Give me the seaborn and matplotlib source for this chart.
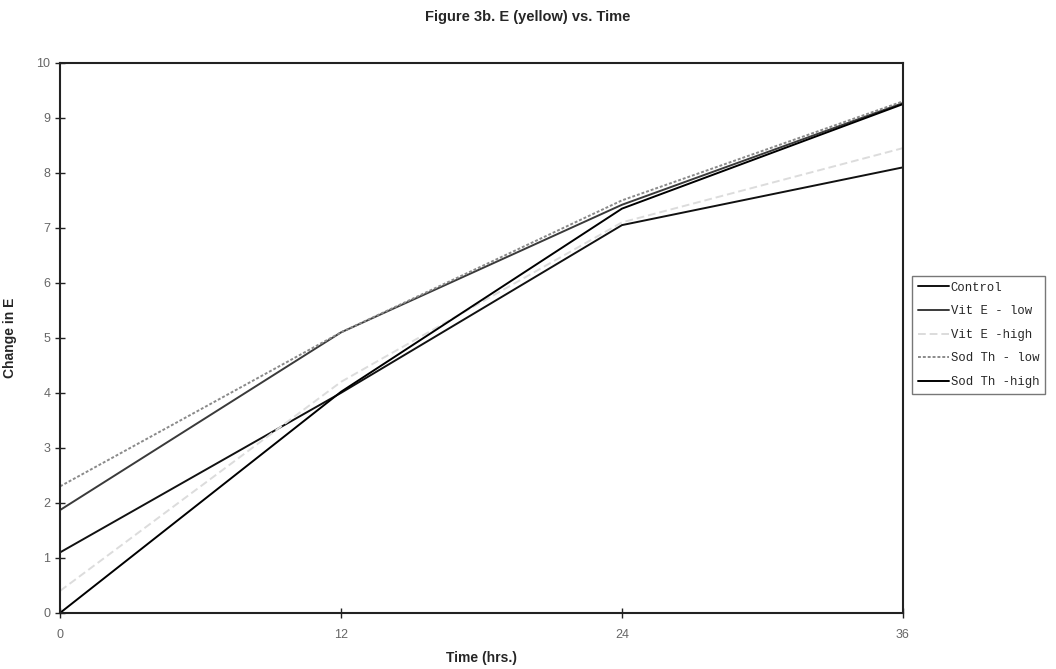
import numpy as np
import pandas as pd
import matplotlib
matplotlib.use("Agg")
import matplotlib.pyplot as plt
import seaborn as sns

# values
hours = [0, 12, 24, 36]
control = [1.1, 4.0, 7.05, 8.1]
vite_low = [1.87, 5.1, 7.42, 9.27]
vite_high = [0.4, 4.2, 7.1, 8.45]
sodth_low = [2.3, 5.1, 7.5, 9.3]
sodth_high = [0.0, 4.02, 7.35, 9.25]

labels = ["Control", "Vit E - low", "Vit E -high", "Sod Th - low", "Sod Th -high"]
series = [control, vite_low, vite_high, sodth_low, sodth_high]

df = pd.DataFrame({
    "Time": np.tile(hours, len(labels)),
    "Change": np.concatenate(series),
    "Group": np.repeat(labels, len(hours)),
})

sns.set_style("white")
plt.rcParams['font.family'] = ['Liberation Sans', 'DejaVu Sans']

fig = plt.figure(figsize=(10.56, 6.69), dpi=100)
ax = fig.add_axes([0.057, 0.084, 0.798, 0.822])

palette = {"Control": "#111111", "Vit E - low": "#3a3a3a", "Vit E -high": "#dcdcdc",
           "Sod Th - low": "#8a8a8a", "Sod Th -high": "#000000"}
dashes = {"Control": "", "Vit E - low": "", "Vit E -high": (4, 2),
          "Sod Th - low": (1.5, 1), "Sod Th -high": ""}
sns.lineplot(data=df, x="Time", y="Change", hue="Group", style="Group",
             palette=palette, dashes=dashes, linewidth=1.4, ax=ax, legend=False)

ax.set_xlim(0, 36)
ax.set_ylim(0, 10)
ax.set_xticks([0, 12, 24, 36])
ax.set_yticks(range(0, 11))
ax.tick_params(axis="both", bottom=True, left=True, direction="inout", length=7, width=1,
               colors="#222222", labelcolor="#666666", labelsize=9)
ax.tick_params(axis="x", pad=8)
for s in ax.spines.values():
    s.set_color("#222222")
    s.set_linewidth(1.5)

ax.set_xlabel("Time (hrs.)", fontweight="bold", fontsize=10)
ax.set_ylabel("Change in E", fontweight="bold", fontsize=10, labelpad=14)
ax.xaxis.set_label_coords(0.5, -0.07)
fig.suptitle("Figure 3b. E (yellow) vs. Time", fontweight="bold", fontsize=10.5, x=0.5, y=0.985)

# legend built from the same lines
handles = ax.get_lines()
leg = ax.legend(handles, labels, loc="upper left", bbox_to_anchor=(1.006, 0.62),
                frameon=True, fancybox=False, edgecolor="#555555",
                prop={"family": "Liberation Mono", "size": 8.8},
                handlelength=2.6, handletextpad=0.1, labelspacing=0.95,
                borderpad=0.5, borderaxespad=0.3)
leg.get_frame().set_linewidth(1.0)

fig.savefig("out.png", dpi=100, facecolor="white")
